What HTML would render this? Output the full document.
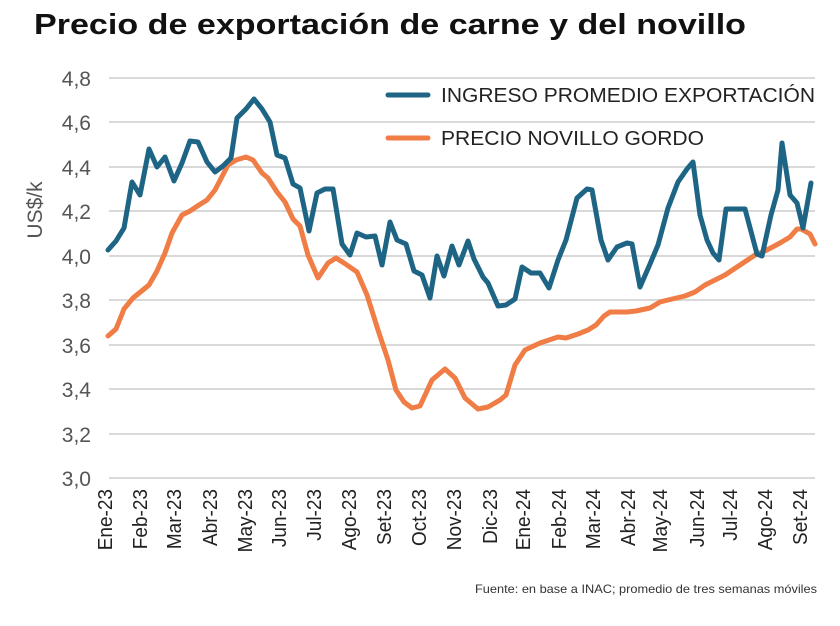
<!DOCTYPE html>
<html><head><meta charset="utf-8"><style>
body{margin:0;background:#fff;width:840px;height:621px;overflow:hidden}
</style></head><body>
<svg width="840" height="621" xmlns="http://www.w3.org/2000/svg" font-family="Liberation Sans, sans-serif">
<text x="34" y="34" font-size="29" font-weight="bold" fill="#111" textLength="712" lengthAdjust="spacingAndGlyphs">Precio de exportación de carne y del novillo</text>
<g stroke="#d9d9d9" stroke-width="2">
<line x1="109" x2="815" y1="78" y2="78"/><line x1="109" x2="815" y1="122" y2="122"/>
<line x1="109" x2="815" y1="167" y2="167"/><line x1="109" x2="815" y1="211" y2="211"/>
<line x1="109" x2="815" y1="256" y2="256"/><line x1="109" x2="815" y1="300" y2="300"/>
<line x1="109" x2="815" y1="345" y2="345"/><line x1="109" x2="815" y1="389" y2="389"/>
<line x1="109" x2="815" y1="434" y2="434"/><line x1="109" x2="815" y1="478" y2="478"/>
</g>
<g font-size="21" fill="#555" text-anchor="end">
<text x="91" y="86">4,8</text><text x="91" y="130">4,6</text><text x="91" y="175">4,4</text>
<text x="91" y="219">4,2</text><text x="91" y="264">4,0</text><text x="91" y="308">3,8</text>
<text x="91" y="353">3,6</text><text x="91" y="397">3,4</text><text x="91" y="442">3,2</text>
<text x="91" y="486">3,0</text>
</g>
<text transform="translate(42,210) rotate(-90)" font-size="21" fill="#555" text-anchor="middle">US$/k</text>
<g font-size="20" fill="#222" text-anchor="end">
<text transform="translate(112,489) rotate(-90) scale(0.95,1)">Ene-23</text>
<text transform="translate(147,489) rotate(-90) scale(0.95,1)">Feb-23</text>
<text transform="translate(181,489) rotate(-90) scale(0.95,1)">Mar-23</text>
<text transform="translate(217,489) rotate(-90) scale(0.95,1)">Abr-23</text>
<text transform="translate(252,489) rotate(-90) scale(0.95,1)">May-23</text>
<text transform="translate(286,489) rotate(-90) scale(0.95,1)">Jun-23</text>
<text transform="translate(321,489) rotate(-90) scale(0.95,1)">Jul-23</text>
<text transform="translate(356,489) rotate(-90) scale(0.95,1)">Ago-23</text>
<text transform="translate(391,489) rotate(-90) scale(0.95,1)">Set-23</text>
<text transform="translate(426,489) rotate(-90) scale(0.95,1)">Oct-23</text>
<text transform="translate(461,489) rotate(-90) scale(0.95,1)">Nov-23</text>
<text transform="translate(497,489) rotate(-90) scale(0.95,1)">Dic-23</text>
<text transform="translate(530,489) rotate(-90) scale(0.95,1)">Ene-24</text>
<text transform="translate(566,489) rotate(-90) scale(0.95,1)">Feb-24</text>
<text transform="translate(600,489) rotate(-90) scale(0.95,1)">Mar-24</text>
<text transform="translate(635,489) rotate(-90) scale(0.95,1)">Abr-24</text>
<text transform="translate(667,489) rotate(-90) scale(0.95,1)">May-24</text>
<text transform="translate(704,489) rotate(-90) scale(0.95,1)">Jun-24</text>
<text transform="translate(737,489) rotate(-90) scale(0.95,1)">Jul-24</text>
<text transform="translate(772,489) rotate(-90) scale(0.95,1)">Ago-24</text>
<text transform="translate(807,489) rotate(-90) scale(0.95,1)">Set-24</text>
</g>
<polyline fill="none" stroke="#ef7d45" stroke-width="5" stroke-linejoin="round" stroke-linecap="round" points="108,336 116,329 124,309 133,298 149,285 157,271 165,253 172,233 182,215 190,211 199,205 207,200 215,190 228,165 236,160 246,157 253,160 262,173 268,178 277,192 285,202 293,219 300,226 308,255 318,278 328,263 336,258 344,263 357,272 367,295 378,330 388,360 396,390 404,402 412,408 420,406 432,380 445,369 455,378 465,398 478,409 488,407 500,400 506,395 515,365 525,350 540,343 558,337 566,338 578,334 588,330 596,325 604,316 610,312 627,312 636,311 650,308 660,302 668,300 685,296 695,292 705,285 725,275 740,265 755,255 765,251 780,243 790,237 797,229 801,229 810,234 815,244"/>
<polyline fill="none" stroke="#1e6585" stroke-width="5" stroke-linejoin="round" stroke-linecap="round" points="108,250 116,241 124,228 132,182 140,195 149,149 157,167 165,157 174,181 182,163 190,141 198,142 207,162 215,172 223,166 231,158 237,118 246,109 254,99 262,109 270,122 277,155 285,158 293,184 300,188 309,231 317,193 325,189 333,189 342,244 350,255 357,233 366,237 375,236 382,265 390,222 397,240 406,244 414,271 422,275 430,298 437,256 444,276 452,246 459,265 468,241 474,259 483,277 488,283 498,306 506,305 515,299 522,267 531,273 540,273 549,288 558,260 566,240 577,198 587,189 592,190 601,240 608,260 617,247 627,243 632,244 640,287 650,264 658,245 668,208 678,182 687,169 693,162 700,215 707,240 713,253 719,260 726,209 740,209 745,209 757,254 762,256 771,215 778,190 782,143 790,195 797,203 803,228 811,183"/>
<line x1="388" x2="428" y1="95" y2="95" stroke="#1e6585" stroke-width="5" stroke-linecap="round"/>
<line x1="388" x2="428" y1="138" y2="138" stroke="#ef7d45" stroke-width="5" stroke-linecap="round"/>
<g font-size="20" fill="#222">
<text x="441" y="102" textLength="374" lengthAdjust="spacingAndGlyphs">INGRESO PROMEDIO EXPORTACIÓN</text>
<text x="441" y="145" textLength="263" lengthAdjust="spacingAndGlyphs">PRECIO NOVILLO GORDO</text>
</g>
<text x="817" y="593" font-size="12" fill="#333" text-anchor="end" textLength="342" lengthAdjust="spacingAndGlyphs">Fuente: en base a INAC; promedio de tres semanas móviles</text>
</svg>
</body></html>
